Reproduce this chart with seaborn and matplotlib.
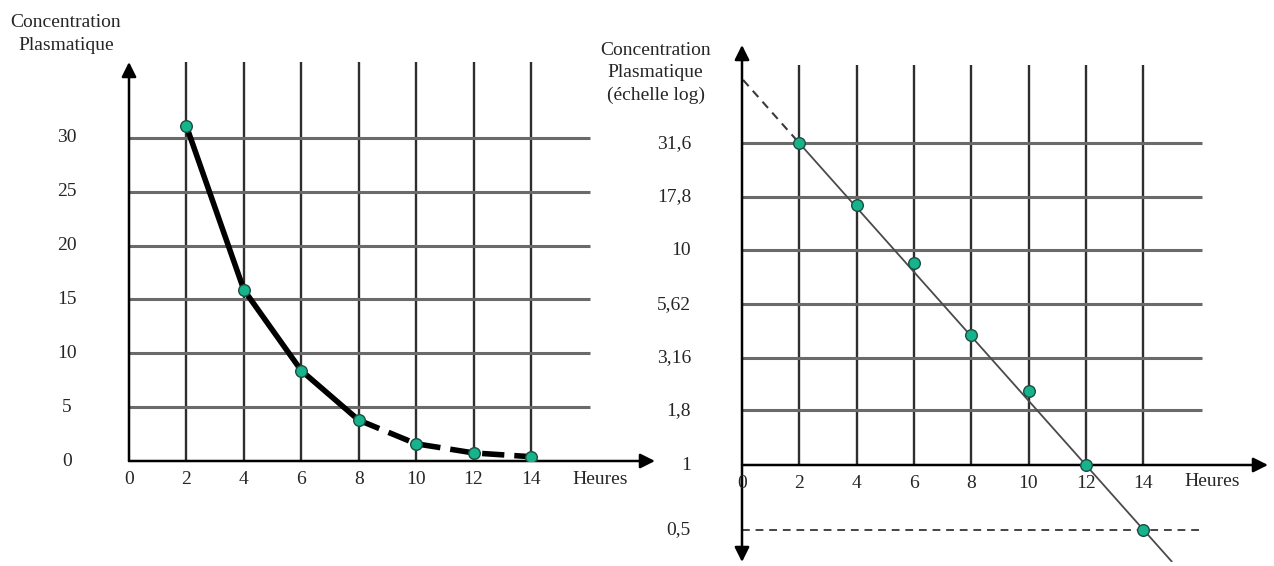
import math
import matplotlib
matplotlib.use('Agg')
import matplotlib.pyplot as plt
import seaborn as sns

# data
heures = [2, 4, 6, 8, 10, 12, 14]
conc_lin = [31.1, 15.9, 8.4, 3.8, 1.6, 0.75, 0.4]
conc_log = [31.6, 16.3, 8.75, 4.04, 2.21, 1.0, 0.5]
xticks = [0, 2, 4, 6, 8, 10, 12, 14]
yticks_lin = [0, 5, 10, 15, 20, 25, 30]
yticks_log = [1, 1.8, 3.16, 5.62, 10, 17.8, 31.6]
ylabels_log = ['1', '1,8', '3,16', '5,62', '10', '17,8', '31,6']
# straight line on the log chart (extrapolated part is dashed)
droite_t = [-0.3, 2, 15]
droite_c = [70, 31.6, 0.355]
seuil = 0.5

sns.set_style('white')
plt.rcParams['font.family'] = ['Liberation Serif', 'DejaVu Serif']

W, H = 1274, 566
fig = plt.figure(figsize=(W / 100, H / 100), dpi=100)


def px(x, y):
    # figure pixel -> figure fraction (for text only)
    return x / W, 1 - y / H


vcol = '#2e2e2e'
hcol = '#6a6a6a'
green = '#16b38c'
fs = 14

# ---------- left chart: linear scale ----------
ax1 = fig.add_axes([129 / W, (H - 461) / H, 526 / W, 399 / H])
ax1.set_xlim(0, 526 / 28.71)
ax1.set_ylim(0, 399 / 10.767)
ax1.axis('off')
ytop1 = 399 / 10.767

ax1.vlines(xticks[1:], 0, ytop1, color=vcol, lw=1.7)
ax1.hlines(yticks_lin[1:], 0, 16.06, color=hcol, lw=2.2)
arrow = dict(arrowstyle='-|>', color='black', lw=1.8, mutation_scale=22,
             shrinkA=0, shrinkB=0)
ax1.annotate('', xy=(0, ytop1), xytext=(0, 0), arrowprops=arrow)
ax1.annotate('', xy=(526 / 28.71, 0), xytext=(0, 0), arrowprops=arrow)

sns.lineplot(x=heures[:4], y=conc_lin[:4], color='black', lw=4, ax=ax1)
sns.lineplot(x=heures[3:], y=conc_lin[3:], color='black', lw=4,
             linestyle=(0, (4, 1.8)), ax=ax1)
sns.scatterplot(x=heures, y=conc_lin, color=green, edgecolor='#1d4d40', s=70,
                linewidth=1, zorder=5, ax=ax1)

for v in yticks_lin:
    fig.text(*px(67, 461 - v * 10.767), str(v), ha='center', va='center', fontsize=fs)
for v in xticks:
    fig.text(*px(129 + v * 28.71, 479), str(v), ha='center', va='center', fontsize=fs)
fig.text(*px(600, 479), 'Heures', ha='center', va='center', fontsize=fs)
fig.text(*px(66, 34), 'Concentration\nPlasmatique', ha='center', va='center',
         fontsize=fs, linespacing=1.4)

# ---------- right chart: log scale ----------
ax2 = fig.add_axes([742 / W, 4 / H, 526 / W, 517 / H])
ax2.set_yscale('log')
ax2.set_xlim(0, 526 / 28.65)
ax2.set_ylim(10 ** -0.452, 10 ** 1.957)
ax2.axis('off')

ax2.vlines(xticks[1:], 1, 10 ** 1.865, color=vcol, lw=1.7)
ax2.hlines(yticks_log[1:], 0, 16.06, color=hcol, lw=2.2)
ax2.hlines(seuil, 0, 16.06, color='#444444', lw=1.4, linestyles=(0, (4, 3)))
arrow2 = dict(arrowstyle='<|-|>', color='black', lw=1.8, mutation_scale=22,
              shrinkA=0, shrinkB=0)
ax2.annotate('', xy=(0, 10 ** 1.957), xytext=(0, 10 ** -0.452), arrowprops=arrow2)
ax2.annotate('', xy=(526 / 28.65, 1), xytext=(0, 1), arrowprops=arrow)

sns.lineplot(x=droite_t[1:], y=droite_c[1:], color='#4a4a4a', lw=1.3, ax=ax2)
sns.lineplot(x=droite_t[:2], y=droite_c[:2], color='#3a3a3a', lw=1.5,
             linestyle=(0, (4, 3)), ax=ax2)
sns.scatterplot(x=heures, y=conc_log, color=green, edgecolor='#1d4d40', s=70,
                linewidth=1, zorder=5, ax=ax2)

for v, lab in zip(yticks_log + [seuil], ylabels_log + ['0,5']):
    fig.text(*px(691, 465 - math.log10(v) * 214.5), lab, ha='right', va='center',
             fontsize=fs)
for v in xticks:
    fig.text(*px(742 + v * 28.65, 484), str(v), ha='center', va='center', fontsize=fs)
fig.text(*px(1212, 482), 'Heures', ha='center', va='center', fontsize=fs)
fig.text(*px(711, 73), 'Concentration\nPlasmatique\n(échelle log)', ha='right',
         va='center', fontsize=fs, linespacing=1.4, multialignment='center')

fig.savefig('out.png', dpi=100)
